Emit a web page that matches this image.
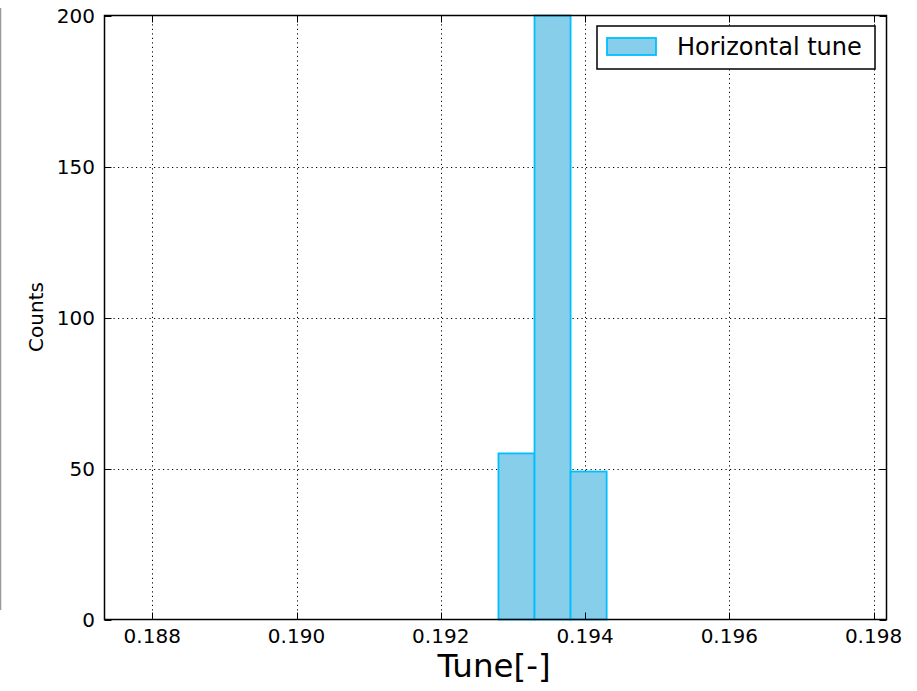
<!DOCTYPE html>
<html>
<head>
<meta charset="utf-8">
<script src="https://cdn.jsdelivr.net/npm/d3@7"></script>
<style>
  body { margin: 0; background: #fff; }
  svg { font-family: "DejaVu Sans", sans-serif; }
</style>
</head>
<body>
<div class="chart-container"></div>
<script>
// histogram bins (left edge, right edge) and counts
const binStarts = [0.1928, 0.1933, 0.1938];
const binWidth = 0.0005;
const counts = [55, 200, 49];
const xTicks = [0.188, 0.190, 0.192, 0.194, 0.196, 0.198];
const yTicks = [0, 50, 100, 150, 200];
const seriesName = "Horizontal tune";

const w = 917;
const h = 691;
const margin = { top: 15.5, right: 30, bottom: 71.5, left: 104.5 };

const svg = d3
  .select(".chart-container")
  .append("svg")
  .attr("width", w)
  .attr("height", h);

// stray frame line on the far left
svg
  .append("line")
  .attr("x1", 0.5)
  .attr("x2", 0.5)
  .attr("y1", 8)
  .attr("y2", 610)
  .attr("stroke", "#999")
  .attr("stroke-width", 1.5);

const xScale = d3
  .scaleLinear()
  .domain([0.187338, 0.19818])
  .range([margin.left, w - margin.right - 0.5]);

const yScale = d3
  .scaleLinear()
  .domain([0, 200])
  .range([h - margin.bottom, margin.top]);

const x0 = xScale.range()[0];
const x1 = xScale.range()[1];
const y0 = yScale.range()[0];
const y1 = yScale.range()[1];

// grid lines
const grid = svg.append("g").attr("stroke", "#000").attr("stroke-width", 1)
  .attr("stroke-dasharray", "1.2,3.3");
grid
  .selectAll(".gx")
  .data(xTicks)
  .enter()
  .append("line")
  .attr("x1", (d) => Math.round(xScale(d)) + 0.5)
  .attr("x2", (d) => Math.round(xScale(d)) + 0.5)
  .attr("y1", y0)
  .attr("y2", y1);
grid
  .selectAll(".gy")
  .data(yTicks.slice(1, -1))
  .enter()
  .append("line")
  .attr("x1", x0)
  .attr("x2", x1)
  .attr("y1", (d) => Math.round(yScale(d)) + 0.5)
  .attr("y2", (d) => Math.round(yScale(d)) + 0.5);

// bars
svg
  .selectAll(".bar")
  .data(counts)
  .enter()
  .append("rect")
  .attr("class", "bar")
  .attr("x", (d, i) => xScale(binStarts[i]))
  .attr("width", (d, i) => xScale(binStarts[i] + binWidth) - xScale(binStarts[i]))
  .attr("y", (d) => yScale(d))
  .attr("height", (d) => yScale(0) - yScale(d))
  .attr("fill", "#87ceeb")
  .attr("stroke", "#00bfff")
  .attr("stroke-width", 1.8);

// ticks (inward, on all four sides)
const tickLen = 7;
const ticks = svg.append("g").attr("stroke", "#000").attr("stroke-width", 1);
xTicks.forEach((t) => {
  const x = Math.round(xScale(t)) + 0.5;
  ticks.append("line").attr("x1", x).attr("x2", x).attr("y1", y0).attr("y2", y0 - tickLen);
  ticks.append("line").attr("x1", x).attr("x2", x).attr("y1", y1).attr("y2", y1 + tickLen);
});
yTicks.forEach((t) => {
  const y = Math.round(yScale(t)) + 0.5;
  ticks.append("line").attr("x1", x0).attr("x2", x0 + tickLen).attr("y1", y).attr("y2", y);
  ticks.append("line").attr("x1", x1).attr("x2", x1 - tickLen).attr("y1", y).attr("y2", y);
});

// frame
svg
  .append("rect")
  .attr("x", x0)
  .attr("y", y1)
  .attr("width", x1 - x0)
  .attr("height", y0 - y1)
  .attr("fill", "none")
  .attr("stroke", "#000")
  .attr("stroke-width", 1.5);

// tick labels
svg
  .selectAll(".xlab")
  .data(xTicks)
  .enter()
  .append("text")
  .attr("x", (d) => xScale(d))
  .attr("y", 643)
  .attr("text-anchor", "middle")
  .attr("font-size", 20)
  .text((d) => d3.format(".3f")(d));

svg
  .selectAll(".ylab")
  .data(yTicks)
  .enter()
  .append("text")
  .attr("x", 95)
  .attr("y", (d) => yScale(d) + 7.5)
  .attr("text-anchor", "end")
  .attr("font-size", 20)
  .text((d) => d);

// axis titles
svg
  .append("text")
  .attr("x", 494)
  .attr("y", 677)
  .attr("text-anchor", "middle")
  .attr("font-size", 32.5)
  .text("Tune[-]");

svg
  .append("text")
  .attr("transform", "translate(43,317) rotate(-90)")
  .attr("text-anchor", "middle")
  .attr("font-size", 20)
  .text("Counts");

// legend
const legend = svg.append("g");
legend
  .append("rect")
  .attr("x", 597)
  .attr("y", 26)
  .attr("width", 278)
  .attr("height", 43)
  .attr("fill", "#fff")
  .attr("stroke", "#000")
  .attr("stroke-width", 1.5);
legend
  .append("rect")
  .attr("x", 607)
  .attr("y", 38)
  .attr("width", 49)
  .attr("height", 17)
  .attr("fill", "#87ceeb")
  .attr("stroke", "#00bfff")
  .attr("stroke-width", 1.8);
legend
  .append("text")
  .attr("x", 677)
  .attr("y", 55)
  .attr("font-size", 24)
  .text(seriesName);
</script>
</body>
</html>
